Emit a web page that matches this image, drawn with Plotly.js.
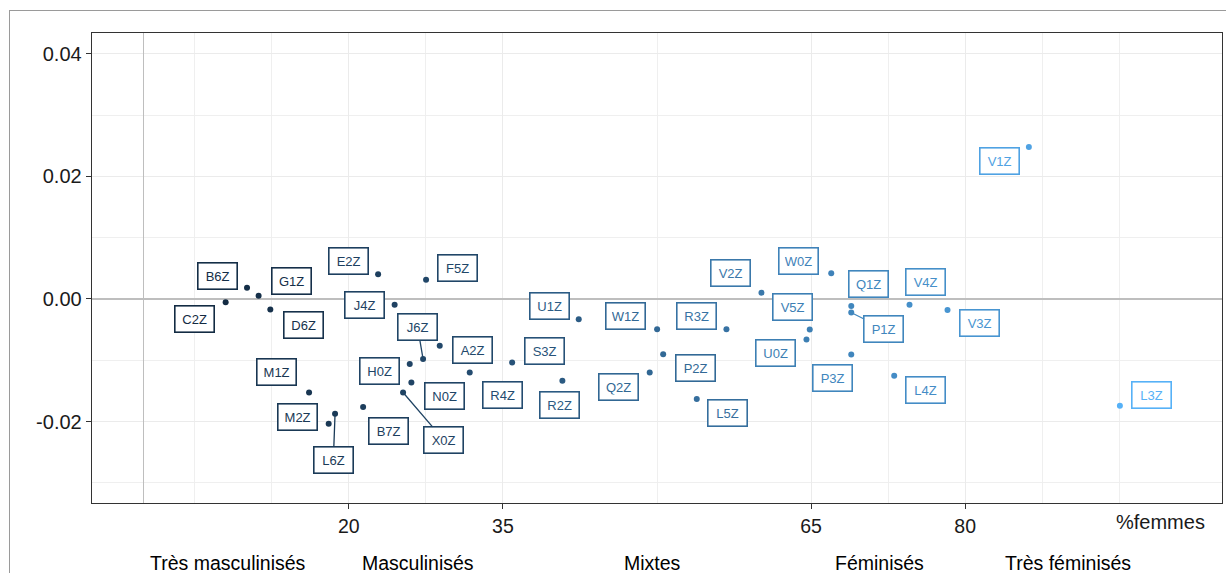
<!DOCTYPE html>
<html>
<head>
<meta charset="utf-8">
<script src="https://cdn.plot.ly/plotly-3.0.1.min.js"></script>
<style>
  html, body { margin: 0; padding: 0; background: #ffffff; overflow: hidden; }
  #frame { position: absolute; left: 9px; top: 10px; width: 1400px; height: 800px; border: 1px solid #9a9a9a; box-sizing: border-box; }
  #chart { position: absolute; left: 0; top: 0; width: 1226px; height: 573px; }
</style>
</head>
<body>
<div id="frame"></div>
<div id="chart"></div>
<script>
// ---- Data ----
const codes = ["C2Z","B6Z","G1Z","D6Z","E2Z","F5Z","J4Z","J6Z","A2Z","H0Z","N0Z","X0Z","R4Z","S3Z","R2Z","B7Z","M1Z","M2Z","L6Z",
               "U1Z","W1Z","R3Z","V2Z","P2Z","Q2Z","L5Z","V1Z","W0Z","Q1Z","P1Z","V4Z","V3Z","V5Z","U0Z","P3Z","L4Z","L3Z"];
const pctFemmes = [8.01,10.09,11.22,12.36,22.85,27.52,24.46,27.23,28.85,25.93,26.09,25.28,31.77,35.90,40.79,21.39,16.13,18.04,18.66,
                   42.38,50.01,56.76,60.17,50.60,49.29,53.87,86.20,66.96,68.91,68.91,74.58,78.28,64.87,64.55,68.91,73.09,95.06];
const coord = [-0.00054,0.00184,0.00054,-0.00174,0.00402,0.00314,-0.00093,-0.00982,-0.00765,-0.01063,-0.01363,-0.01526,-0.01200,-0.01037,-0.01336,-0.01764,-0.01526,-0.02036,-0.01873,
               -0.00331,-0.00493,-0.00493,0.00103,-0.00901,-0.01200,-0.01634,0.02480,0.00419,-0.00114,-0.00223,-0.00093,-0.00179,-0.00500,-0.00663,-0.00907,-0.01254,-0.01743];
const xTickVals = [20,35,65,80];
const xTickText = ["20","35","65","80"];
const yTickVals = [-0.02,0,0.02,0.04];
const yTickText = ["-0.02","0.00","0.02","0.04"];
const groupLabels = ["Très masculinisés","Masculinisés","Mixtes","Féminisés","Très féminisés"];
const groupCenters = [8.2,26.7,49.6,71.7,90.0];
const axisName = "%femmes";

// ---- Label placement (pixel offsets of the repelled labels, layout only) ----
const labelDx = [-31.5,-29.9,32.5,33.2,-29.4,31.3,-30.3,-5.5,32.5,-30.6,32.8,40.8,32.9,32.8,-2.5,25.3,-32.4,-31.6,-1.7,
                 -29.6,-31.9,-29.8,-30.7,32.6,-31,30.7,-29,-32.4,17.3,32.5,15.7,32.2,-17.6,-30.8,-19,30.8,31.9];
const labelDy = [16.7,-11.9,-14.4,15.1,-13.1,-12,0.3,-32.3,3.8,6.7,13.5,47.6,22.1,-11.4,24.3,24.4,-20.2,-6.8,46,
                 -12.8,-12.8,-12.8,-19.4,13.4,14.3,13.5,14.3,-12.5,-21.8,16.3,-22.4,13.2,-22.4,13.5,23.5,14.3,-10.3];
const withSegment = ["J6Z","X0Z","L6Z","P1Z"];

// ---- Colour gradient (ggplot default, interpolated in CIELAB) ----
function hex2rgb(h){ h=h.replace('#',''); return [0,2,4].map(i=>parseInt(h.substr(i,2),16)); }
function lin(c){ c/=255; return c<=0.04045 ? c/12.92 : Math.pow((c+0.055)/1.055,2.4); }
function unlin(c){ let v = c<=0.0031308 ? 12.92*c : 1.055*Math.pow(c,1/2.4)-0.055; return Math.round(Math.max(0,Math.min(1,v))*255); }
function rgb2lab(rgb){
  const [r,g,b]=rgb.map(lin);
  const X=(0.4124*r+0.3576*g+0.1805*b)/0.95047, Y=(0.2126*r+0.7152*g+0.0722*b), Z=(0.0193*r+0.1192*g+0.9505*b)/1.08883;
  const f=t=> t>0.008856 ? Math.cbrt(t) : 7.787*t+16/116;
  const fx=f(X), fy=f(Y), fz=f(Z);
  return [116*fy-16, 500*(fx-fy), 200*(fy-fz)];
}
function lab2hex(lab){
  const fy=(lab[0]+16)/116, fx=fy+lab[1]/500, fz=fy-lab[2]/200;
  const finv=t=> t*t*t>0.008856 ? t*t*t : (t-16/116)/7.787;
  const X=finv(fx)*0.95047, Y=finv(fy), Z=finv(fz)*1.08883;
  const r= 3.2406*X-1.5372*Y-0.4986*Z, g=-0.9689*X+1.8758*Y+0.0415*Z, b=0.0557*X-0.2040*Y+1.0570*Z;
  return '#'+[r,g,b].map(unlin).map(v=>v.toString(16).padStart(2,'0')).join('');
}
const lowLab = rgb2lab(hex2rgb('#132B43')), highLab = rgb2lab(hex2rgb('#56B1F7'));
const xmin = Math.min(...pctFemmes), xmax = Math.max(...pctFemmes);
const colors = pctFemmes.map(v=>{
  const t=(v-xmin)/(xmax-xmin);
  return lab2hex(lowLab.map((c,i)=>c+(highLab[i]-c)*t));
});

const FONT = '"Liberation Sans", Arial, sans-serif';

const trace = {
  type: 'scatter', mode: 'markers',
  x: pctFemmes, y: coord, text: codes,
  marker: { size: 6, color: colors },
  hoverinfo: 'text', showlegend: false
};

const annotations = codes.map((c,i)=>({
  x: pctFemmes[i], y: coord[i], xref: 'x', yref: 'y',
  text: c, showarrow: true, arrowhead: 0, arrowwidth: 1.3,
  arrowcolor: withSegment.includes(c) ? colors[i] : 'rgba(0,0,0,0)',
  ax: labelDx[i], ay: labelDy[i], standoff: 2,
  font: { family: FONT, size: 13, color: colors[i] },
  bordercolor: colors[i], borderwidth: 1.6, borderpad: 5, bgcolor: '#ffffff',
  width: 28, height: 15
}));

groupLabels.forEach((g,i)=>{
  annotations.push({ x: groupCenters[i], y: -0.127, xref: 'x', yref: 'paper', text: g, showarrow: false,
    xanchor: 'center', yanchor: 'middle', font: { family: FONT, size: 19.5, color: '#000000' } });
});
annotations.push({ x: 99.0, y: -0.041, xref: 'x', yref: 'paper', text: axisName, showarrow: false,
  xanchor: 'center', yanchor: 'middle', font: { family: FONT, size: 20, color: '#1a1a1a' } });

const layout = {
  width: 1226, height: 573,
  margin: { l: 92, r: 4, t: 33, b: 70, pad: 0 },
  paper_bgcolor: 'rgba(0,0,0,0)', plot_bgcolor: '#ffffff',
  font: { family: FONT },
  xaxis: {
    range: [-5, 105], tickmode: 'array', tickvals: xTickVals, ticktext: xTickText,
    ticks: 'outside', ticklen: 5, tickwidth: 1, tickcolor: '#333333',
    tickfont: { family: FONT, size: 19.5, color: '#1a1a1a' },
    showgrid: true, gridcolor: '#EBEBEB', gridwidth: 1.1,
    minor: { tickmode: 'array', tickvals: [5,12.5,27.5,50,72.5,87.5,95], showgrid: true, gridcolor: '#EDEDED', gridwidth: 0.9, ticks: '' },
    zeroline: true, zerolinecolor: '#BEBEBE', zerolinewidth: 1.1,
    showline: true, linecolor: '#333333', linewidth: 1.3, mirror: true
  },
  yaxis: {
    range: [-0.0333, 0.0434], tickmode: 'array', tickvals: yTickVals, ticktext: yTickText,
    ticks: 'outside', ticklen: 5, tickwidth: 1, tickcolor: '#333333',
    tickfont: { family: FONT, size: 20, color: '#1a1a1a' },
    showgrid: true, gridcolor: '#EBEBEB', gridwidth: 1.1,
    minor: { tickmode: 'array', tickvals: [-0.03,-0.01,0.01,0.03], showgrid: true, gridcolor: '#EDEDED', gridwidth: 0.9, ticks: '' },
    zeroline: true, zerolinecolor: '#BEBEBE', zerolinewidth: 1.1,
    showline: true, linecolor: '#333333', linewidth: 1.3, mirror: true
  },
  annotations: annotations
};

Plotly.newPlot('chart', [trace], layout, { displayModeBar: false, staticPlot: true });
</script>
</body>
</html>
